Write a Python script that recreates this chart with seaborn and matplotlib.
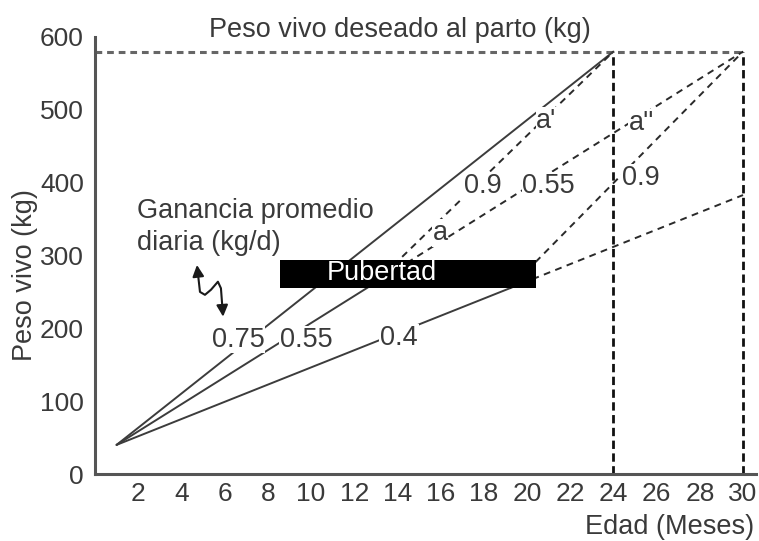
import matplotlib
matplotlib.use("Agg")
import matplotlib.pyplot as plt
from matplotlib.path import Path
from matplotlib.patches import FancyArrowPatch
import pandas as pd
import seaborn as sns

# values
peso_objetivo = 580
edades_parto = [24, 30]

edad_075 = [1, 24]
peso_075 = [40, 580]
edad_055_pre = [1, 13]
peso_055_pre = [40, 263]
edad_055_post = [13, 30]
peso_055_post = [263, 580]
edad_09_a = [13, 24]
peso_09_a = [263, 580]
edad_04_pre = [1, 19.2]
peso_04_pre = [40, 255]
edad_04_post = [19.2, 30]
peso_04_post = [255, 383]
edad_09_b = [19.2, 30]
peso_09_b = [255, 580]

pubertad_edad = [8.55, 20.4]
pubertad_peso = [255, 294]

x_major = list(range(2, 31, 2))
x_minor = list(range(1, 30, 2))
y_major = list(range(0, 601, 100))
y_minor = list(range(50, 600, 100))

# (text, edad, peso) -- baseline anchored
etiquetas = [
    ("0.75", 6.62, 175),
    ("0.55", 9.77, 175),
    ("0.4", 14.07, 177),
    ("0.9", 17.95, 386),
    ("0.55", 21.0, 386),
    ("0.9", 25.25, 397),
    ("a", 15.97, 321),
    ("a'", 20.9, 475),
    ("a''", 25.3, 472),
]

TEXT = "#3a3a3a"
LINE = "#3c3c3c"
FS = 19.5
FS_TICK = 19

sns.set_theme(style="white")
plt.rcParams["font.family"] = ["Liberation Sans", "DejaVu Sans"]

fig = plt.figure(figsize=(7.59, 5.41), dpi=100)
ax = fig.add_axes([95 / 759, 67 / 541, 661 / 759, 437 / 541])

solid_kw = dict(color=LINE, linewidth=1.4, zorder=2)
dash_kw = dict(color="#2a2a2a", linewidth=1.4, linestyle=(0, (3.5, 2.8)), zorder=2)

df = pd.DataFrame({"edad": edad_075, "peso": peso_075})
sns.lineplot(data=df, x="edad", y="peso", ax=ax, **solid_kw)
sns.lineplot(x=edad_055_pre, y=peso_055_pre, ax=ax, **solid_kw)
sns.lineplot(x=edad_04_pre, y=peso_04_pre, ax=ax, **solid_kw)
sns.lineplot(x=edad_055_post, y=peso_055_post, ax=ax, **dash_kw)
sns.lineplot(x=edad_09_a, y=peso_09_a, ax=ax, **dash_kw)
sns.lineplot(x=edad_04_post, y=peso_04_post, ax=ax, **dash_kw)
sns.lineplot(x=edad_09_b, y=peso_09_b, ax=ax, **dash_kw)

# target weight and calving ages
ax.hlines(peso_objetivo, 0, edades_parto[-1], color="#666666", linewidth=2.2,
          linestyles=(0, (2.2, 1.6)), zorder=1)
ax.vlines(edades_parto, 0, peso_objetivo, color="#111111", linewidth=2.0,
          linestyles=(0, (3, 1.6)), zorder=1)

# puberty band
ax.fill_between(pubertad_edad, pubertad_peso[0], pubertad_peso[1],
                color="black", linewidth=0, zorder=3)
ax.text(13.29, 266, "Pubertad", color="white", fontsize=FS, ha="center",
        va="baseline", zorder=4)

for txt, x, y in etiquetas:
    ax.text(x, y, txt, color=TEXT, fontsize=FS, ha="center", va="baseline", zorder=5,
            bbox=dict(facecolor="white", edgecolor="none", pad=0.5))

ax.text(14.1, 600, "Peso vivo deseado al parto (kg)", color=TEXT, fontsize=FS,
        ha="center", va="baseline")
ax.text(1.94, 351, "Ganancia promedio", color=TEXT, fontsize=FS, ha="left", va="baseline")
ax.text(1.94, 307, "diaria (kg/d)", color=TEXT, fontsize=FS, ha="left", va="baseline")

# wavy double arrow
squiggle = Path([(4.72, 287), (4.86, 250), (5.09, 246), (5.37, 253),
                 (5.69, 264), (5.83, 255), (5.93, 216)])
ax.add_patch(FancyArrowPatch(path=squiggle, arrowstyle="<|-|>", mutation_scale=17,
                             color="#1a1a1a", linewidth=1.5, zorder=5))

ax.set_xlim(0, 30.6)
ax.set_ylim(0, 600)
ax.set_xticks(x_major)
ax.set_xticks(x_minor, minor=True)
ax.set_yticks(y_major)
ax.set_yticks(y_minor, minor=True)
ax.tick_params(axis="x", which="major", direction="in", length=7, width=1.6,
               color="#222222", labelsize=FS_TICK, labelcolor=TEXT, pad=6)
ax.tick_params(axis="x", which="minor", direction="in", length=5, width=1.6,
               color="#222222")
ax.tick_params(axis="y", which="both", direction="in", length=13, width=1.6,
               color="#333333", labelsize=FS_TICK, labelcolor=TEXT, pad=8)

for side in ["top", "right"]:
    ax.spines[side].set_visible(False)
for side in ["left", "bottom"]:
    ax.spines[side].set_color("#555555")
    ax.spines[side].set_linewidth(2.2)

ax.set_xlabel("Edad (Meses)", fontsize=FS, color=TEXT, loc="right")
ax.xaxis.set_label_coords(0.997, -0.092)
ax.set_ylabel("Peso vivo (kg)", fontsize=FS, color=TEXT)
ax.yaxis.set_label_coords(-0.086, 0.455)

fig.savefig("out.png", dpi=100)
